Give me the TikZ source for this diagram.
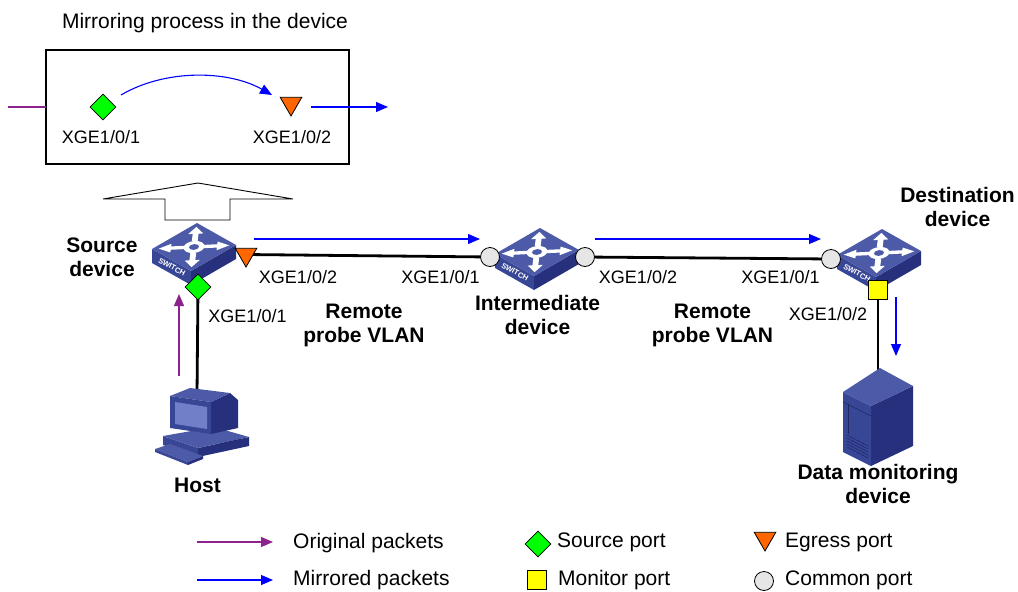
\documentclass[tikz,border=0pt]{standalone}
\usepackage{fontspec}
\setmainfont{Liberation Sans}
\usetikzlibrary{arrows.meta,shapes.geometric,backgrounds}

\definecolor{srcgreen}{RGB}{0,255,0}
\definecolor{egorange}{RGB}{255,102,0}
\definecolor{monyellow}{RGB}{255,255,0}
\definecolor{comgray}{RGB}{230,230,230}
\definecolor{origpurple}{RGB}{140,35,140}
\definecolor{mirblue}{RGB}{0,0,255}
\definecolor{devtop}{RGB}{76,90,168}
\definecolor{devleft}{RGB}{56,70,150}
\definecolor{devright}{RGB}{38,48,125}
\definecolor{devlight}{RGB}{112,128,200}
\definecolor{devline}{RGB}{30,38,100}

\tikzset{
  srcport/.style={diamond, draw=black, fill=srcgreen, minimum width=26pt, minimum height=26pt, inner sep=0pt, line width=0.8pt},
  egport/.style={regular polygon, regular polygon sides=3, shape border rotate=180, draw=black, fill=egorange, minimum size=25pt, inner sep=0pt, line width=0.8pt},
  monport/.style={rectangle, draw=black, fill=monyellow, minimum size=19pt, inner sep=0pt, line width=0.8pt},
  comport/.style={circle, draw=black, fill=comgray, minimum size=19pt, inner sep=0pt, line width=0.8pt},
  link/.style={line width=2.8pt, black},
  mirarrow/.style={mirblue, line width=1.1pt, -{Triangle[length=12pt,width=10pt]}},
  origarrow/.style={origpurple, line width=1.1pt, -{Triangle[length=12pt,width=10pt]}},
  portlabel/.style={font=\fontsize{18}{21}\selectfont, anchor=base, inner sep=0pt},
  devlabel/.style={font=\fontsize{21}{24}\selectfont\bfseries, align=center, inner sep=0pt},
  plaintext/.style={font=\fontsize{21}{25}\selectfont, inner sep=0pt},
  % layer-3 switch seen from above
  switchpic/.pic={
    \fill[devleft] (-42,2) -- (-3,24) -- (-3,38) -- (-42,16) -- cycle;
    \fill[devright] (-3,24) -- (42,-2) -- (42,12) -- (-3,38) -- cycle;
    \fill[devtop] (-42,2) -- (3,-24) -- (42,-2) -- (-3,24) -- cycle;
    \begin{scope}[x={(42pt,2pt)},y={(3pt,24pt)}]
      \fill[white] (0,0) circle[radius=0.25];
      \fill[devtop] (0,0) circle[radius=0.12];
      \foreach \a/\b in {1/0,0/1,-1/0,0/-1}{
        \fill[white]
          ({0.24*\a-0.07*\b},{0.24*\b+0.07*\a}) --
          ({0.55*\a-0.07*\b},{0.55*\b+0.07*\a}) --
          ({0.55*\a-0.18*\b},{0.55*\b+0.18*\a}) --
          ({0.84*\a},{0.84*\b}) --
          ({0.55*\a+0.18*\b},{0.55*\b-0.18*\a}) --
          ({0.55*\a+0.07*\b},{0.55*\b-0.07*\a}) --
          ({0.24*\a+0.07*\b},{0.24*\b-0.07*\a}) -- cycle;
      }
    \end{scope}
    \node[name=-tag, rotate=-29, text=white, inner sep=0pt,
          font=\fontsize{7.5}{8}\selectfont\bfseries] at (-22,20) {SWITCH};
  },
  % desktop computer
  hostpic/.pic={
    \fill[devleft] (-34,11) -- (1,23) -- (1,32) -- (-34,20) -- cycle;
    \fill[devright] (1,23) -- (52,12) -- (52,21) -- (1,32) -- cycle;
    \fill[devtop] (-34,11) -- (17,2) -- (52,12) -- (1,23) -- cycle;
    \draw[devline, line width=0.4pt] (22,19) -- (44,14);
    \fill[devtop] (-42,24) -- (-27,19) -- (6,31) -- (-9,37) -- cycle;
    \fill[devleft] (-42,24) -- (-9,37) -- (-9,40) -- (-42,27) -- cycle;
    \fill[devright] (-9,37) -- (6,31) -- (6,34) -- (-9,40) -- cycle;
    \fill[devright] (14,-23) -- (33,-32) -- (41,-25) -- (41,3) -- (14,9) -- cycle;
    \fill[devtop] (-27,-29) -- (-7,-37) -- (33,-32) -- (14,-23) -- cycle;
    \fill[devleft] (-27,-29) -- (14,-23) -- (14,9) -- (-27,3) -- cycle;
    \fill[devlight] (-22,-23) -- (10,-18) -- (10,4) -- (-22,-1) -- cycle;
  },
  % tower server
  serverpic/.pic={
    \fill[devright] (-7,-10) -- (35,-30) -- (35,30) -- (-7,50) -- cycle;
    \fill[devleft] (-35,-24) -- (-7,-10) -- (-7,50) -- (-35,36) -- cycle;
    \fill[devtop] (-35,-24) -- (2,-48) -- (35,-30) -- (-7,-10) -- cycle;
    \draw[devline, line width=0.5pt] (-35,-14) -- (-7,0);
    \draw[devline, line width=0.5pt] (-30,-12) -- (-30,18);
    \foreach \k in {0,...,4}{
      \draw[devline, line width=0.5pt] (-31,{19+3*\k}) -- (-10,{30+3*\k});
    }
  }
}

\begin{document}
\begin{tikzpicture}[x=1pt,y=-1pt]
  \useasboundingbox (0,0) rectangle (1018,592);
  \begin{pgfonlayer}{background}
    \fill[white] (0,0) rectangle (1018,592);
  \end{pgfonlayer}

  % ---- mirroring inside the source device ----
  \node[plaintext, anchor=base] (title) at (205,28) {Mirroring process in the device};
  \draw[line width=2pt] (46,50) rectangle (349,164);
  \coordinate (inEnd) at (46,107);
  \coordinate (inStart) at (8,107);
  \draw[origpurple, line width=1.1pt] (inStart) -- (inEnd);
  \node[srcport] (boxSrc) at (103,107) {};
  \node[egport] (boxEg) at (291,103.5) {};
  \node[portlabel] (boxSrcLbl) at (101,143) {XGE1/0/1};
  \node[portlabel] (boxEgLbl) at (292,143) {XGE1/0/2};
  \coordinate (curveA) at (121,95);
  \coordinate (curveB) at (272,95);
  \draw[mirarrow] (curveA) .. controls (165,69) and (228,70) .. (curveB);
  \coordinate (outA) at (311,107);
  \coordinate (outB) at (388,107);
  \draw[mirarrow] (outA) -- (outB);

  % hollow arrow pointing from the device up to its detail
  \draw[fill=white, line width=0.9pt] (165,220) -- (165,199) -- (103,199) -- (198,183)
    -- (293,199) -- (230,199) -- (230,220) -- cycle;

  % ---- devices ----
  \pic (src) at (194,247) {switchpic};
  \pic (mid) at (537,252) {switchpic};
  \pic (dst) at (879,253) {switchpic};
  \pic (host) at (197,425) {hostpic};
  \pic (srv) at (878,416) {serverpic};
  \coordinate (hostTop) at (197,395);
  \coordinate (srvTop) at (878,380);

  % ---- ports ----
  \node[egport] (srcEg) at (246,254.5) {};
  \node[srcport] (srcIn) at (198,287) {};
  \node[comport] (midL) at (490,257) {};
  \node[comport] (midR) at (585,257) {};
  \node[comport] (dstIn) at (831,259) {};
  \node[monport] (dstMon) at (878,290) {};

  % ---- links ----
  \begin{pgfonlayer}{background}
    \draw[link] (srcEg.center) -- (midL.center);
    \draw[link] (midR.center) -- (dstIn.center);
    \draw[link] (srcIn.center) -- (hostTop);
    \draw[link] (dstMon.center) -- (srvTop);
  \end{pgfonlayer}

  % ---- packet flows ----
  \coordinate (f1a) at (254,239);
  \coordinate (f1b) at (480,239);
  \coordinate (f2a) at (595,239);
  \coordinate (f2b) at (821,239);
  \coordinate (f3a) at (896,297);
  \coordinate (f3b) at (896,356);
  \coordinate (f4a) at (179,376);
  \coordinate (f4b) at (179,294);
  \draw[mirarrow] (f1a) -- (f1b);
  \draw[mirarrow] (f2a) -- (f2b);
  \draw[mirarrow] (f3a) -- (f3b);
  \draw[origarrow] (f4a) -- (f4b);

  % ---- labels ----
  \node[devlabel] (srcName) at (102,257) {Source\\device};
  \node[devlabel] (midName) at (537.5,314.5) {Intermediate\\device};
  \node[devlabel] (dstName) at (957.5,206.5) {Destination\\device};
  \node[devlabel] (srvName) at (878,484) {Data monitoring\\device};
  \node[devlabel, anchor=base] (hostName) at (197.5,492) {Host};
  \node[devlabel] (vlanL) at (364,325) {Remote\\probe VLAN};
  \node[devlabel] (vlanR) at (712.5,325) {Remote\\probe VLAN};

  \node[portlabel] (lblSrcEg) at (298,283) {XGE1/0/2};
  \node[portlabel] (lblSrcIn) at (247.5,322) {XGE1/0/1};
  \node[portlabel] (lblMidL) at (440.5,283) {XGE1/0/1};
  \node[portlabel] (lblMidR) at (638,283) {XGE1/0/2};
  \node[portlabel] (lblDstIn) at (780.5,283) {XGE1/0/1};
  \node[portlabel] (lblDstMon) at (828,320) {XGE1/0/2};

  % ---- legend ----
  \coordinate (lg1a) at (197,542);
  \coordinate (lg1b) at (273,542);
  \coordinate (lg2a) at (197,580);
  \coordinate (lg2b) at (273,580);
  \draw[origarrow] (lg1a) -- (lg1b);
  \draw[mirarrow] (lg2a) -- (lg2b);
  \node[plaintext, anchor=base west] (lgOrig) at (293,548) {Original packets};
  \node[plaintext, anchor=base west] (lgMir) at (293,585) {Mirrored packets};
  \node[srcport] (lgSrc) at (538,544) {};
  \node[plaintext, anchor=base west] (lgSrcT) at (557,547) {Source port};
  \node[monport] (lgMon) at (537,579.5) {};
  \node[plaintext, anchor=base west] (lgMonT) at (558,585) {Monitor port};
  \node[egport] (lgEg) at (765,538.5) {};
  \node[plaintext, anchor=base west] (lgEgT) at (785,547) {Egress port};
  \node[comport] (lgCom) at (764,581) {};
  \node[plaintext, anchor=base west] (lgComT) at (785,585) {Common port};
\end{tikzpicture}
\end{document}
